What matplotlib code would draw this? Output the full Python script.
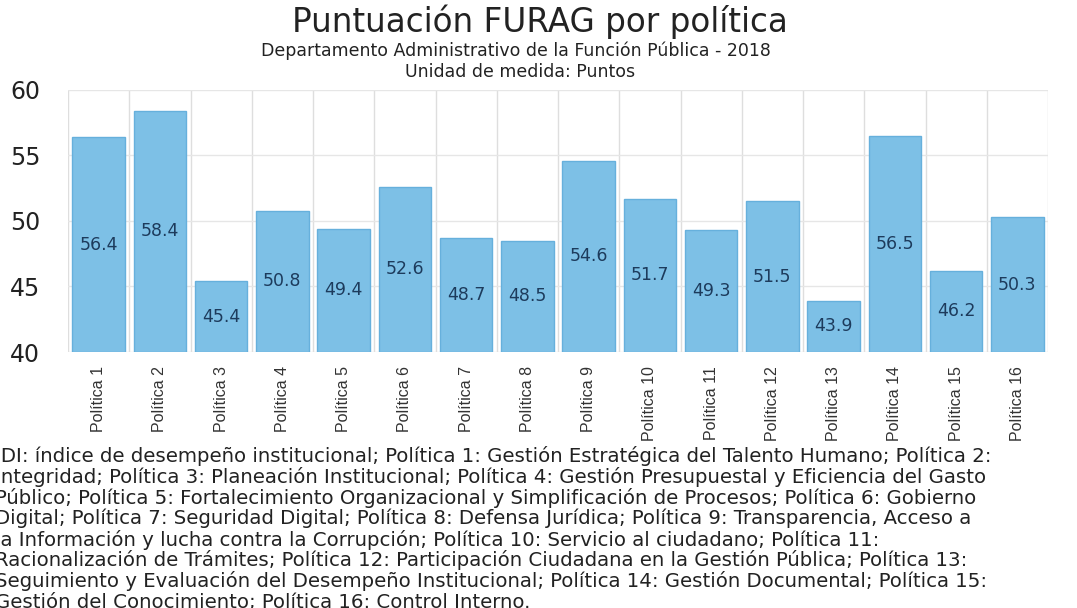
import matplotlib
matplotlib.use("Agg")
import matplotlib.pyplot as plt

# Data
categories = [f"Política {i}" for i in range(1, 17)]
scores = [56.4, 58.4, 45.4, 50.8, 49.4, 52.6, 48.7, 48.5,
          54.6, 51.7, 49.3, 51.5, 43.9, 56.5, 46.2, 50.3]
y_ticks = [40, 45, 50, 55, 60]

title = "Puntuación FURAG por política"
subtitle1 = "Departamento Administrativo de la Función Pública - 2018"
subtitle2 = "Unidad de medida: Puntos"
note_lines = [
    "IDI: índice de desempeño institucional; Política 1: Gestión Estratégica del Talento Humano; Política 2:",
    "Integridad; Política 3: Planeación Institucional; Política 4: Gestión Presupuestal y Eficiencia del Gasto",
    "Público; Política 5: Fortalecimiento Organizacional y Simplificación de Procesos; Política 6: Gobierno",
    "Digital; Política 7: Seguridad Digital; Política 8: Defensa Jurídica; Política 9: Transparencia, Acceso a",
    "la Información y lucha contra la Corrupción; Política 10: Servicio al ciudadano; Política 11:",
    "Racionalización de Trámites; Política 12: Participación Ciudadana en la Gestión Pública; Política 13:",
    "Seguimiento y Evaluación del Desempeño Institucional; Política 14: Gestión Documental; Política 15:",
    "Gestión del Conocimiento; Política 16: Control Interno.",
]

W, H, DPI = 1077, 608, 100
main_font = ["DejaVu Sans"]
tick_font = ["Liberation Sans", "DejaVu Sans"]
ink = "#222222"

fig = plt.figure(figsize=(W / DPI, H / DPI), dpi=DPI)
fig.patch.set_facecolor("white")

left, right, top, bottom = 68, 1048, 90, 352
ax = fig.add_axes([left / W, 1 - bottom / H, (right - left) / W, (bottom - top) / H])

base = y_ticks[0]
x = list(range(len(categories)))
heights = [v - base for v in scores]
ax.bar(x, heights, bottom=base, width=0.86, color="#7dc0e6",
       edgecolor="#66b0dc", linewidth=1.0, zorder=2)

for xi, v in zip(x, scores):
    ax.text(xi, base + (v - base) / 2, f"{v:.1f}", ha="center", va="center",
            fontsize=12.5, color="#1d3b5c", family=main_font, zorder=3)

ax.set_xlim(-0.5, len(categories) - 0.5)
ax.set_ylim(y_ticks[0], y_ticks[-1])
ax.set_yticks(y_ticks)
ax.set_yticklabels([str(t) for t in y_ticks], fontsize=17, family=main_font, color=ink)

# vertical gridlines between categories
ax.set_xticks([i - 0.5 for i in range(len(categories) + 1)], minor=True)
ax.set_xticks(x)
ax.set_xticklabels(categories, rotation=90, fontsize=11.5, family=tick_font,
                   color="#333333", va="top", ha="center")
ax.grid(True, which="minor", axis="x", color="#dedede", linewidth=1.0, zorder=0)
ax.grid(True, which="major", axis="y", color="#e6e6e6", linewidth=1.0, zorder=0)
ax.set_axisbelow(True)
ax.tick_params(axis="both", which="both", length=0)
ax.tick_params(axis="y", pad=20)
ax.tick_params(axis="x", pad=10)
for s in ax.spines.values():
    s.set_visible(False)

def px(xp, yp):
    return xp / W, 1 - yp / H

fig.text(*px(540, 22), title, ha="center", va="center", fontsize=23.5,
         family=main_font, color=ink)
fig.text(*px(516, 51), subtitle1, ha="center", va="center", fontsize=12.5,
         family=main_font, color=ink)
fig.text(*px(520, 72), subtitle2, ha="center", va="center", fontsize=12.5,
         family=main_font, color=ink)

# footnote block
y0, dy = 456, 20.9
note_size = 14.2
for i, line in enumerate(note_lines):
    fig.text(*px(-5, y0 + i * dy), line, ha="left", va="center", fontsize=note_size,
             family=main_font, color=ink)

fig.savefig("out.png", dpi=DPI, facecolor="white")
